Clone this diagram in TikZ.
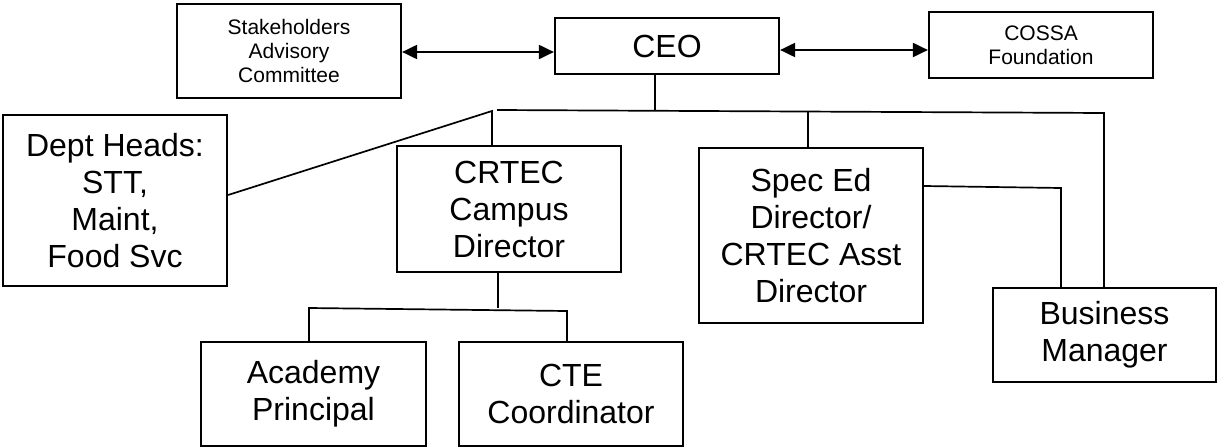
\documentclass[tikz,border=0pt]{standalone}
\usepackage{fontspec}
\setmainfont{Liberation Sans}
\usetikzlibrary{arrows.meta}
\begin{document}
\begin{tikzpicture}[x=1pt,y=-1pt,
  box/.style={draw,line width=2.2pt,align=center,inner sep=0pt,font=\fontsize{32}{37}\selectfont},
  smallbox/.style={box,font=\fontsize{21}{24}\selectfont},
  conn/.style={line width=1.7pt},
  biarrow/.style={line width=2pt,{Triangle[length=15pt,width=14pt]}-{Triangle[length=15pt,width=14pt]}}]
\useasboundingbox (0,0) rectangle (1217,447);
% nodes
\node[smallbox,minimum width=224pt,minimum height=94pt] (sac) at (289,51) {Stakeholders\\Advisory\\Committee};
\node[box,minimum width=224pt,minimum height=56pt] (ceo) at (667,46) {CEO};
\node[smallbox,minimum width=224pt,minimum height=66pt] (cossa) at (1041,45) {COSSA\\Foundation};
\node[box,minimum width=224pt,minimum height=171pt] (dept) at (115,200.5) {Dept Heads:\\STT,\\Maint,\\Food Svc};
\node[box,minimum width=224pt,minimum height=126pt] (crtec) at (509,209) {CRTEC\\Campus\\Director};
\node[box,minimum width=224pt,minimum height=175pt] (spec) at (811,235.5) {Spec Ed\\Director/\\CRTEC Asst\\Director};
\node[box,minimum width=223pt,minimum height=94pt] (bus) at (1104.5,335) {Business\\Manager};
\node[box,minimum width=225pt,minimum height=104pt] (acad) at (313.5,394) {Academy\\Principal};
\node[box,minimum width=224pt,minimum height=104pt] (cte) at (571,394) {CTE\\Coordinator};
% coordinates
\coordinate (trunk) at (655,111);
\coordinate (apex) at (492,111);
\coordinate (barL) at (497,110);
\coordinate (barR) at (1104,113);
\coordinate (specT) at (808,112);
\coordinate (busL) at (1061,188);
\coordinate (crtecB) at (498,308);
\coordinate (subL) at (309,308);
\coordinate (subR) at (567,311);
% arrows
\draw[biarrow] (sac.east |- 0,52) -- (ceo.west |- 0,52);
\draw[biarrow] (ceo.east |- 0,50) -- (cossa.west |- 0,50);
% connectors
\draw[conn] (ceo.south -| trunk) -- (trunk);
\draw[conn] (dept.east |- 0,195) -- (apex) -- (crtec.north -| apex);
\draw[conn] (barL) -- (barR) -- (bus.north -| barR);
\draw[conn] (spec.north -| specT) -- (specT);
\draw[conn] (spec.east |- 0,186) -- (busL) -- (bus.north -| busL);
\draw[conn] (crtec.south -| crtecB) -- (crtecB);
\draw[conn] (acad.north -| subL) -- (subL) -- (subR) -- (cte.north -| subR);
\end{tikzpicture}
\end{document}
